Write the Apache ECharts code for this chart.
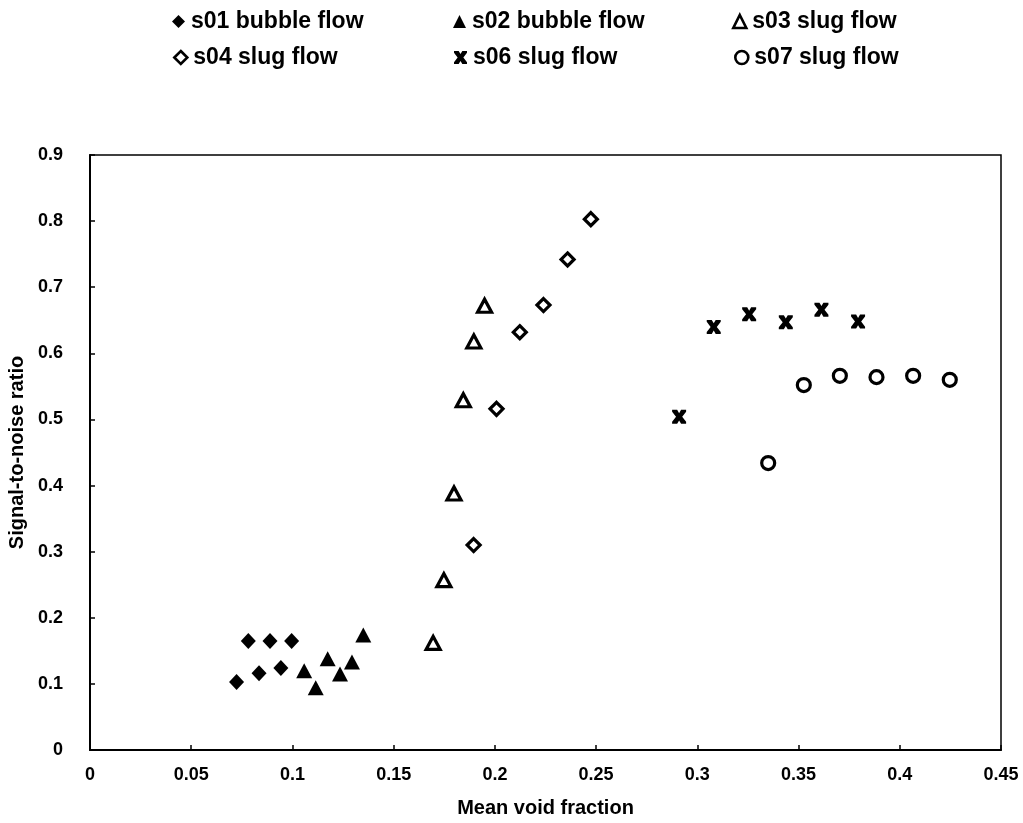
<!DOCTYPE html>
<html>
<head>
<meta charset="utf-8">
<script src="https://cdn.jsdelivr.net/npm/echarts@6/dist/echarts.min.js"></script>
<style>
html,body{margin:0;padding:0;background:#fff;}
#chart{width:1023px;height:823px;}
</style>
</head>
<body>
<div id="chart"></div>
<script>
// ---- data ----
const seriesNames = ['s01 bubble flow','s02 bubble flow','s03 slug flow','s04 slug flow','s06 slug flow','s07 slug flow'];

const s01X = [0.0724, 0.0782, 0.0835, 0.0889, 0.0943, 0.0996];
const s01Y = [0.103, 0.165, 0.116, 0.165, 0.124, 0.165];

const s02X = [0.1058, 0.1115, 0.1174, 0.1235, 0.1294, 0.1350];
const s02Y = [0.120, 0.094, 0.138, 0.115, 0.133, 0.174];

const s03X = [0.1695, 0.1748, 0.1798, 0.1844, 0.1896, 0.1949];
const s03Y = [0.162, 0.257, 0.388, 0.529, 0.618, 0.672];

const s04X = [0.1895, 0.2008, 0.2123, 0.2240, 0.2359, 0.2474];
const s04Y = [0.310, 0.516, 0.632, 0.673, 0.742, 0.803];

const s06X = [0.2910, 0.3081, 0.3256, 0.3437, 0.3613, 0.3794];
const s06Y = [0.504, 0.640, 0.659, 0.647, 0.666, 0.648];

const s07X = [0.3350, 0.3526, 0.3704, 0.3885, 0.4066, 0.4247];
const s07Y = [0.434, 0.552, 0.566, 0.564, 0.566, 0.560];

const xTicks = [0,0.05,0.1,0.15,0.2,0.25,0.3,0.35,0.4,0.45];
const yTicks = [0,0.1,0.2,0.3,0.4,0.5,0.6,0.7,0.8,0.9];

const xTitle = 'Mean void fraction';
const yTitle = 'Signal-to-noise ratio';

// ---- build ----
const zip = (xs, ys) => xs.map((x, i) => [x, ys[i]]);
const FONT = '"Liberation Sans", Arial, sans-serif';
const xPath = 'path://M0,0 L3.6,0 L5,2.4 L6.4,0 L10,0 L10,1.4 L7.2,5 L10,8.6 L10,10 L6.4,10 L5,7.6 L3.6,10 L0,10 L0,8.6 L2.8,5 L0,1.4 Z';

const filled = {color:'#000', borderColor:'#000', borderWidth:0, opacity:1};
const hollow = {color:'#fff', borderColor:'#000', borderWidth:3.2, opacity:1};

const defs = [
  {data: zip(s01X, s01Y), symbol:'diamond', size:[15,16], style: filled},
  {data: zip(s02X, s02Y), symbol:'triangle', size:[16,15], style: filled},
  {data: zip(s03X, s03Y), symbol:'triangle', size:[14,13], style: hollow},
  {data: zip(s04X, s04Y), symbol:'diamond', size:[13,13], style: hollow},
  {data: zip(s06X, s06Y), symbol:xPath, size:[14,14], style: filled},
  {data: zip(s07X, s07Y), symbol:'circle', size:[13,13], style: hollow}
];

const series = defs.map((d, i) => ({
  name: seriesNames[i],
  type: 'scatter',
  data: d.data,
  symbol: d.symbol,
  symbolSize: d.size,
  itemStyle: d.style,
  emphasis: {disabled: true},
  z: 3
}));

const legendPos = [
  {left:167, top:5}, {left:448, top:5}, {left:727, top:5},
  {left:168, top:41}, {left:449, top:41}, {left:729, top:41}
];
const legends = seriesNames.map((n, i) => ({
  data: [n],
  left: legendPos[i].left,
  top: legendPos[i].top,
  itemWidth: 13,
  itemHeight: 13,
  itemGap: 6,
  selectedMode: false,
  itemStyle: {borderWidth: (defs[i].style === hollow) ? 2.6 : 0},
  textStyle: {fontFamily: FONT, fontWeight: 'bold', fontSize: 23, color: '#000', padding:[0,0,0,1]}
}));

const chart = echarts.init(document.getElementById('chart'), null, {renderer:'canvas'});
chart.setOption({
  backgroundColor: '#fff',
  animation: false,
  legend: legends,
  grid: {left: 90, right: 22, top: 155, bottom: 73, containLabel: false, outerBoundsMode: 'none',
    show: true, borderColor: '#000', borderWidth: 1.5, backgroundColor: 'transparent'},
  xAxis: {
    type: 'value',
    min: xTicks[0], max: xTicks[xTicks.length-1], interval: 0.05,
    name: xTitle, nameLocation: 'middle', nameGap: 48,
    nameTextStyle: {fontFamily: FONT, fontWeight: 'bold', fontSize: 20, color: '#000'},
    axisLine: {show: true, lineStyle: {color: '#000', width: 2}},
    axisTick: {show: true, inside: true, length: 5, lineStyle: {color: '#000', width: 1.5}},
    axisLabel: {fontFamily: FONT, fontWeight: 'bold', fontSize: 18, color: '#000', margin: 16,
      formatter: v => String(Math.round(v*100)/100)},
    splitLine: {show: false}
  },
  yAxis: {
    type: 'value',
    min: yTicks[0], max: yTicks[yTicks.length-1], interval: 0.1,
    name: yTitle, nameLocation: 'middle', nameGap: 62,
    nameTextStyle: {fontFamily: FONT, fontWeight: 'bold', fontSize: 20, color: '#000'},
    axisLine: {show: true, lineStyle: {color: '#000', width: 2}},
    axisTick: {show: true, inside: true, length: 5, lineStyle: {color: '#000', width: 1.5}},
    axisLabel: {fontFamily: FONT, fontWeight: 'bold', fontSize: 18, color: '#000', margin: 27,
      formatter: v => String(Math.round(v*10)/10)},
    splitLine: {show: false}
  },
  series: series
});
</script>
</body>
</html>
